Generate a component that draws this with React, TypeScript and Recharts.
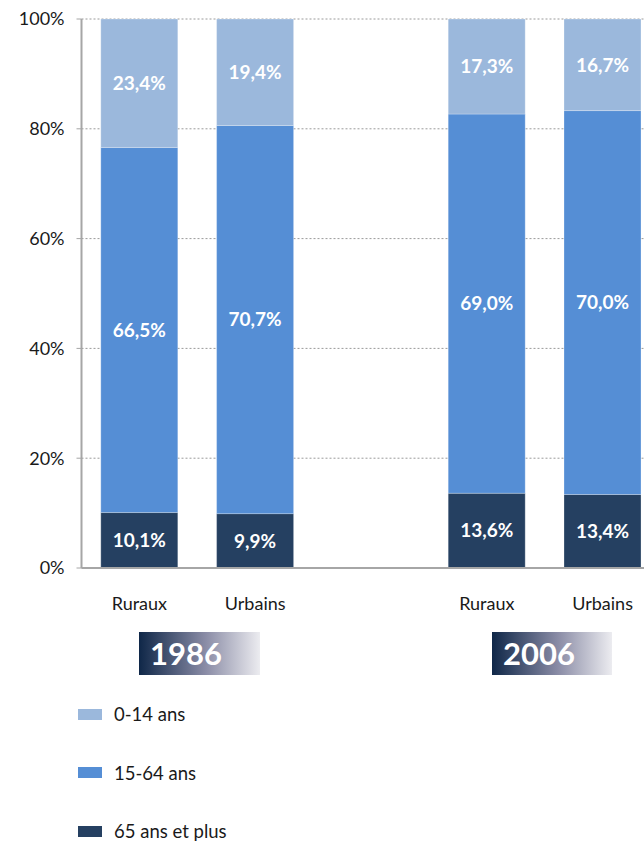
import { BarChart, Bar, XAxis, YAxis, CartesianGrid, LabelList, Legend } from "recharts";

// catégories (une case vide entre les deux années)
const categories = ["Ruraux", "Urbains", "", "Ruraux", "Urbains"];
const jeunes = [23.4, 19.4, null, 17.3, 16.7]; // 0-14 ans
const actifs = [66.5, 70.7, null, 69.0, 70.0]; // 15-64 ans
const seniors = [10.1, 9.9, null, 13.6, 13.4]; // 65 ans et plus
const yTicks = [0, 0.2, 0.4, 0.6, 0.8, 1];
const years = ["1986", "2006"];

const SERIES = [
  { key: "seniors", name: "65 ans et plus", color: "#254061" },
  { key: "actifs", name: "15-64 ans", color: "#558ED5" },
  { key: "jeunes", name: "0-14 ans", color: "#9BB8DC" },
];

const data = categories.map((name, i) => ({
  name,
  jeunes: jeunes[i],
  actifs: actifs[i],
  seniors: seniors[i],
}));

const FONT = "Lato, 'Open Sans', sans-serif";

const fmt = (v: any) =>
  v == null || v === "" ? "" : `${Number(v).toFixed(1).replace(".", ",")}%`;

function LegendList() {
  const items = [...SERIES].reverse();
  return (
    <div style={{ fontFamily: FONT }}>
      {items.map((s) => (
        <div key={s.key} style={{ display: "flex", alignItems: "center", height: 58.5 }}>
          <span style={{ width: 24, height: 11, background: s.color, display: "inline-block", marginRight: 12 }} />
          <span style={{ fontSize: 18.5, color: "#1a1a1a" }}>{s.name}</span>
        </div>
      ))}
    </div>
  );
}

const badgePos = [
  { left: 139, width: 121 },
  { left: 492, width: 120 },
];

export default function App() {
  return (
    <div style={{ position: "absolute", left: 0, top: 0, width: 644, height: 841, overflow: "hidden", background: "#fff" }}>
      <BarChart
        width={662}
        height={841}
        data={data}
        stackOffset="expand"
        margin={{ top: 19, right: 1.5, left: 1.5, bottom: 233 }}
        barCategoryGap="16.67%"
      >
        <CartesianGrid vertical={false} stroke="#9a9a9a" strokeDasharray="2 2" />
        <XAxis
          dataKey="name"
          height={40}
          tickLine={false}
          tickMargin={23}
          axisLine={{ stroke: "#a6a6a6", strokeWidth: 2 }}
          tick={{ fontSize: 18, fill: "#1a1a1a", fontFamily: FONT }}
          interval={0}
        />
        <YAxis
          width={80}
          ticks={yTicks}
          domain={[0, 1]}
          tickFormatter={(v: number) => `${Math.round(v * 100)}%`}
          tickSize={5}
          tickMargin={12}
          axisLine={{ stroke: "#a6a6a6", strokeWidth: 2 }}
          tickLine={{ stroke: "#a6a6a6" }}
          tick={{ fontSize: 18, fill: "#1a1a1a", fontFamily: FONT }}
        />
        {SERIES.map((s) => (
          <Bar
            key={s.key}
            dataKey={s.key}
            name={s.name}
            stackId="a"
            fill={s.color}
            stroke="#ffffff"
            strokeOpacity={0.25}
            isAnimationActive={false}
          >
            <LabelList
              dataKey={s.key}
              position="center"
              formatter={fmt}
              fill="#ffffff"
              style={{ fontSize: 19, fontWeight: 700, fontFamily: FONT }}
            />
          </Bar>
        ))}
        <Legend
          align="center"
          verticalAlign="middle"
          content={() => <LegendList />}
          wrapperStyle={{ top: 685, left: 78, width: 300, height: 180 }}
        />
      </BarChart>
      {years.map((y, i) => (
        <div
          key={y}
          style={{
            position: "absolute",
            top: 632,
            left: badgePos[i].left,
            width: badgePos[i].width,
            height: 43,
            background: "linear-gradient(to right, #0f2748, #8a8ca6 55%, #ececf0)",
            color: "#fff",
            fontFamily: FONT,
            fontWeight: 700,
            fontSize: 31,
            lineHeight: "43px",
            paddingLeft: 11,
            boxSizing: "border-box",
          }}
        >
          {y}
        </div>
      ))}
    </div>
  );
}
